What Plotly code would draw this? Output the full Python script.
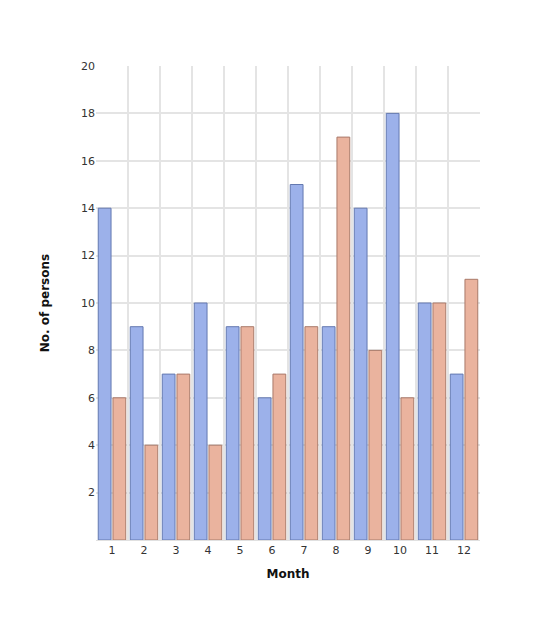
import plotly.graph_objects as go

months = [1, 2, 3, 4, 5, 6, 7, 8, 9, 10, 11, 12]
series_a = [14, 9, 7, 10, 9, 6, 15, 9, 14, 18, 10, 7]
series_b = [6, 4, 7, 4, 9, 7, 9, 17, 8, 6, 10, 11]
y_ticks = [2, 4, 6, 8, 10, 12, 14, 16, 18, 20]

fig = go.Figure()
fig.add_trace(go.Bar(
    x=months, y=series_a, name="A",
    marker=dict(color="#9cb1ea", line=dict(color="#6479b0", width=1)),
))
fig.add_trace(go.Bar(
    x=months, y=series_b, name="B",
    marker=dict(color="#eab39e", line=dict(color="#a97a6a", width=1)),
))

# page body adds an 8px offset, so margins are trimmed to compensate
fig.update_layout(
    width=544, height=628,
    margin=dict(l=88, r=72, t=58, b=96),
    plot_bgcolor="white", paper_bgcolor="white",
    showlegend=False,
    barmode="group", bargap=0.08, bargroupgap=0.13,
    font=dict(family="DejaVu Sans", size=11, color="#333333"),
)
fig.update_xaxes(
    range=[0.5, 12.5], tickvals=months, ticktext=[str(m) for m in months],
    showgrid=False, zeroline=False,
    showline=True, linecolor="#e0e0e0", linewidth=1,
    ticks="", ticklen=0,
    minor=dict(tickvals=[m - 0.5 for m in months] + [12.5], showgrid=True,
               gridcolor="#e4e4e4", gridwidth=1.5),
    title=dict(text="<b>Month</b>", font=dict(size=12, color="#111111"), standoff=13),
)
fig.update_yaxes(
    range=[0, 20], tickvals=y_ticks,
    showgrid=True, gridcolor="#e4e4e4", gridwidth=1.5,
    zeroline=False, ticks="",
    title=dict(text="<b>No. of persons</b>", font=dict(size=12, color="#111111"), standoff=28),
)

fig.write_html("out.html")
